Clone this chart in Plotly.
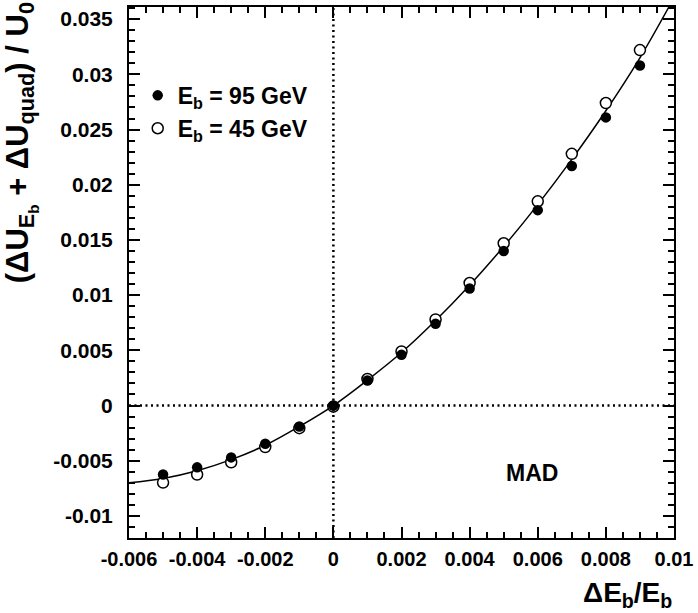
import plotly.graph_objects as go

# delta E_b / E_b
x_pts = [-0.005, -0.004, -0.003, -0.002, -0.001, 0.0, 0.001, 0.002, 0.003, 0.004, 0.005, 0.006, 0.007, 0.008, 0.009]
y_95 = [-0.00625, -0.0056, -0.0047, -0.00346, -0.0019, 0.0, 0.00226, 0.0046, 0.0074, 0.0106, 0.0140, 0.0177, 0.0217, 0.0261, 0.0308]
y_45 = [-0.00698, -0.00625, -0.00514, -0.00376, -0.00205, -0.0001, 0.0024, 0.0049, 0.0078, 0.0111, 0.0147, 0.0185, 0.0228, 0.0274, 0.0322]

# fitted curve
fit_x = [-0.006, -0.005, -0.004, -0.003, -0.002, -0.001, 0.0, 0.001, 0.002, 0.003, 0.004, 0.005, 0.006, 0.007, 0.008, 0.009, 0.00985]
fit_y = [-0.0070, -0.0066, -0.0059, -0.0049, -0.0036, -0.0019, 0.0, 0.0023, 0.0048, 0.0077, 0.0109, 0.0144, 0.0182, 0.0223, 0.0267, 0.0315, 0.0361]

x_ticks = [-0.006, -0.004, -0.002, 0, 0.002, 0.004, 0.006, 0.008, 0.01]
x_labels = ["-0.006", "-0.004", "-0.002", "0", "0.002", "0.004", "0.006", "0.008", "0.01"]
y_ticks = [-0.01, -0.005, 0, 0.005, 0.01, 0.015, 0.02, 0.025, 0.03, 0.035]
y_labels = ["-0.01", "-0.005", "0", "0.005", "0.01", "0.015", "0.02", "0.025", "0.03", "0.035"]

FONT = "Liberation Sans, Arial, sans-serif"

fig = go.Figure()
fig.add_trace(go.Scatter(x=fit_x, y=fit_y, mode="lines", line=dict(color="black", width=1.5, shape="spline"),
                         showlegend=False, hoverinfo="skip"))
# open markers under the filled ones
fig.add_trace(go.Scatter(x=x_pts, y=y_45, mode="markers", name="E<sub>b</sub> = 45 GeV", legendrank=2,
                         marker=dict(size=11, color="white", symbol="circle", line=dict(color="black", width=1.5))))
fig.add_trace(go.Scatter(x=x_pts, y=y_95, mode="markers", name="E<sub>b</sub> = 95 GeV", legendrank=1,
                         marker=dict(size=10.5, color="black", symbol="circle")))

fig.add_hline(y=0, line=dict(color="black", width=2.5, dash="2px,3.5px"))
fig.add_vline(x=0, line=dict(color="black", width=2.5, dash="2px,3.5px"))

axis_common = dict(showline=True, linewidth=2, linecolor="black", mirror="ticks", ticks="inside",
                   ticklen=11, tickwidth=1.5, tickcolor="black", showgrid=False, zeroline=False, tickangle=0)

fig.update_xaxes(range=[-0.006, 0.01], tickvals=x_ticks, ticktext=x_labels,
                 tickfont=dict(family=FONT, size=20, color="black", weight="bold"), ticklabelstandoff=2,
                 minor=dict(dtick=0.0005, ticks="inside", ticklen=6, tickwidth=1.5, tickcolor="black"),
                 **axis_common)
fig.update_yaxes(range=[-0.012, 0.0361], tickvals=y_ticks, ticktext=y_labels,
                 tickfont=dict(family=FONT, size=21, color="black", weight="bold"), ticklabelstandoff=10,
                 minor=dict(dtick=0.001, ticks="inside", ticklen=6, tickwidth=1.5, tickcolor="black"),
                 **axis_common)

fig.add_annotation(x=0.00582, y=-0.00613, xref="x", yref="y", text="MAD", showarrow=False,
                   font=dict(family=FONT, size=23, color="black", weight="bold"))
fig.add_annotation(x=1.0, y=-0.07, xref="paper", yref="paper", xanchor="right", yanchor="top",
                   text="ΔE<sub>b</sub>/E<sub>b</sub>", showarrow=False,
                   font=dict(family=FONT, size=28, color="black", weight="bold"))
fig.add_annotation(x=-0.198, y=1.012, xref="paper", yref="paper", xanchor="center", yanchor="top",
                   textangle=-90, text="(ΔU<sub>E<sub>b</sub></sub> + ΔU<sub>quad</sub>) / U<sub>0</sub>",
                   showarrow=False, font=dict(family=FONT, size=31, color="black", weight="bold"))

fig.update_layout(width=698, height=613, margin=dict(l=129, r=21, t=5, b=75),
                  plot_bgcolor="white", paper_bgcolor="white",
                  legend=dict(x=0.016, y=0.874, xanchor="left", yanchor="top", bgcolor="rgba(0,0,0,0)",
                              font=dict(family=FONT, size=23, color="black", weight="bold"),
                              tracegroupgap=0, itemwidth=30))

fig.write_html("out.html", config={"displayModeBar": False},
               post_script="document.body.style.margin='0px';")
